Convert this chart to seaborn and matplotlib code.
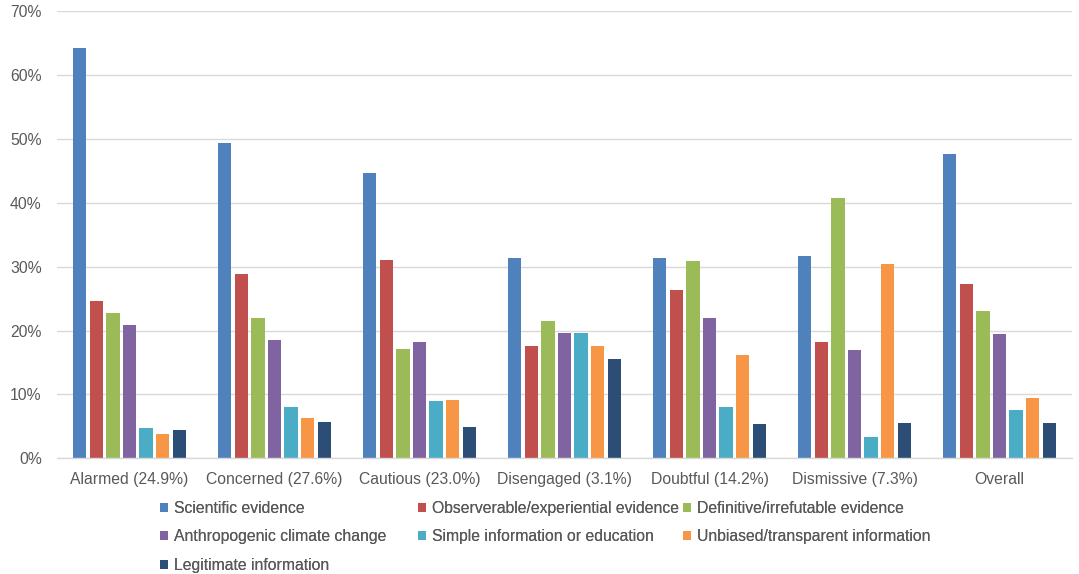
import matplotlib
matplotlib.use("Agg")
import matplotlib.pyplot as plt
from matplotlib.patches import Patch
from matplotlib.ticker import FuncFormatter
import pandas as pd
import seaborn as sns

# Segments of the audience (with share of respondents) plus the overall sample
segments = ["Alarmed (24.9%)", "Concerned (27.6%)", "Cautious (23.0%)",
            "Disengaged (3.1%)", "Doubtful (14.2%)", "Dismissive (7.3%)", "Overall"]

# Share of each segment naming each kind of information (%)
scientific = [64.2, 49.3, 44.6, 31.3, 31.3, 31.7, 47.7]
observable = [24.7, 28.9, 31.1, 17.6, 26.3, 18.2, 27.3]
definitive = [22.7, 22.0, 17.1, 21.5, 30.9, 40.8, 23.0]
anthropogenic = [20.9, 18.6, 18.2, 19.6, 21.9, 17.0, 19.5]
simple_info = [4.8, 8.0, 9.0, 19.6, 8.0, 3.4, 7.6]
unbiased = [3.8, 6.3, 9.2, 17.6, 16.1, 30.5, 9.4]
legitimate = [4.5, 5.7, 4.9, 15.6, 5.3, 5.6, 5.5]

series_names = ["Scientific evidence", "Observerable/experiential evidence",
                "Definitive/irrefutable evidence", "Anthropogenic climate change",
                "Simple information or education", "Unbiased/transparent information",
                "Legitimate information"]
series_values = [scientific, observable, definitive, anthropogenic,
                 simple_info, unbiased, legitimate]
colors = ["#4F81BD", "#C0504D", "#9BBB59", "#8064A2", "#4BACC6", "#F79646", "#2C4D75"]

rows = []
for name, vals in zip(series_names, series_values):
    for seg, v in zip(segments, vals):
        rows.append({"segment": seg, "series": name, "value": v})
df = pd.DataFrame(rows)

sns.set_theme(style="white")
plt.rcParams["font.family"] = ["Liberation Sans", "DejaVu Sans"]
text_color = "#595959"
grid_color = "#D9D9D9"
fsize = 11.3

fig = plt.figure(figsize=(10.79, 5.74), dpi=100)
ax = fig.add_axes([57 / 1079, 115.7 / 574, (1072 - 57) / 1079, 447 / 574])

sns.barplot(data=df, x="segment", y="value", hue="series", order=segments,
            hue_order=series_names, palette=colors, width=0.8, gap=0.2,
            linewidth=0, saturation=1, legend=False, ax=ax)

ax.set_ylim(0, 70)
ax.set_xlim(-0.5, len(segments) - 0.5)
ax.set_yticks(range(0, 71, 10))
ax.yaxis.set_major_formatter(FuncFormatter(lambda v, _: f"{int(v)}%"))
ax.grid(axis="y", color=grid_color, linewidth=1)
ax.set_axisbelow(True)
for side in ["left", "right", "top"]:
    ax.spines[side].set_visible(False)
ax.spines["bottom"].set_color(grid_color)
ax.spines["bottom"].set_linewidth(1)
ax.tick_params(axis="both", length=0, colors=text_color, labelsize=fsize)
ax.tick_params(axis="x", pad=10)
ax.tick_params(axis="y", pad=11)
ax.set_xlabel("")
ax.set_ylabel("")

# Legend laid out as three fixed-width columns, filled row by row
col_x = [160 / 1079, 418 / 1079, 683 / 1079]
first_row_top = 501
for c in range(3):
    idx = list(range(c, len(series_names), 3))
    handles = [Patch(facecolor=colors[i], edgecolor="none") for i in idx]
    labels = [series_names[i] for i in idx]
    leg = fig.legend(handles, labels, loc="upper left",
                     bbox_to_anchor=(col_x[c], 1 - first_row_top / 574),
                     frameon=False, fontsize=fsize, labelcolor=text_color,
                     handlelength=0.5, handleheight=0.5, handletextpad=0.4,
                     labelspacing=0.85, borderpad=0, borderaxespad=0)
    fig.add_artist(leg)

fig.savefig("out.png", dpi=100)
